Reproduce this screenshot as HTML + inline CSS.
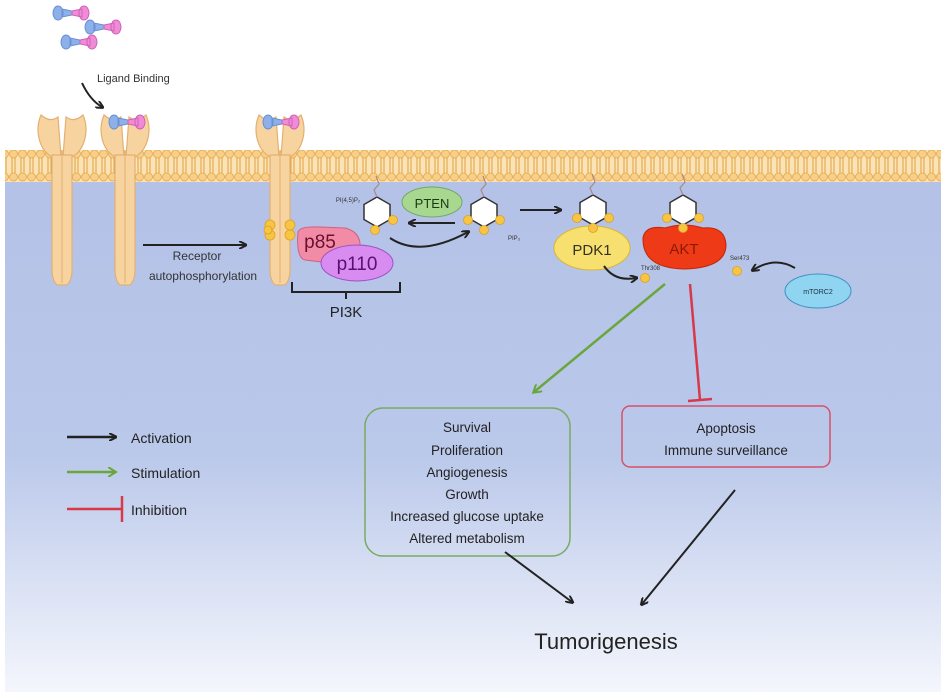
<!DOCTYPE html>
<html><head><meta charset="utf-8"><style>
body{margin:0;background:#fff}
svg{display:block}
text{font-family:"Liberation Sans",sans-serif}
</style></head><body>
<svg width="949" height="692" viewBox="0 0 949 692">
<defs>
<linearGradient id="bg" x1="0" y1="0" x2="0" y2="1">
<stop offset="0" stop-color="#b3c1e7"/><stop offset="0.55" stop-color="#bac8ea"/><stop offset="1" stop-color="#f4f6fc"/>
</linearGradient>
<pattern id="mem" x="0" y="150" width="9" height="32" patternUnits="userSpaceOnUse">
<rect width="9" height="32" fill="#fbe3b8"/>
<circle cx="4.5" cy="4" r="4" fill="#f7cf8a" stroke="#e8a947" stroke-width="0.8"/>
<circle cx="4.5" cy="27" r="4" fill="#f7cf8a" stroke="#e8a947" stroke-width="0.8"/>
<line x1="3" y1="8" x2="3" y2="23" stroke="#e3a03c" stroke-width="1"/>
<line x1="6" y1="8" x2="6" y2="23" stroke="#e3a03c" stroke-width="1"/>
</pattern>
<marker id="ak" markerWidth="8" markerHeight="8" refX="6" refY="4" orient="auto" markerUnits="userSpaceOnUse"><path d="M0,0 L8,4 L0,8" fill="none" stroke="#222" stroke-width="2"/></marker>
<marker id="ag" markerWidth="10" markerHeight="10" refX="7" refY="5" orient="auto" markerUnits="userSpaceOnUse"><path d="M0,0 L8,5 L0,10" fill="none" stroke="#6aa63c" stroke-width="2"/></marker>
<g id="rec">
<path d="M-1,2 L-10,2 C-24,-6 -27,-26 -21,-40 Q-12,-32 -4,-38 Z" fill="#f7d3a0" stroke="#e2b072" stroke-width="1.2"/>
<path d="M1,2 L10,2 C24,-6 27,-26 21,-40 Q12,-32 4,-38 Z" fill="#f7d3a0" stroke="#e2b072" stroke-width="1.2"/>
<path d="M-10,0 L-10,115 C-10,125 -6,130 -4,130 L4,130 C6,130 10,125 10,115 L10,0 Z" fill="#f7d3a0" stroke="#e2b072" stroke-width="1.2"/>
<line x1="0" y1="-5" x2="0" y2="128" stroke="#e2b072" stroke-width="1"/>
</g>
<g id="lig"><path d="M-10,-4 L0,-2 L0,2 L-10,4 Z M-14,-7 a5,7 0 1,0 0.1,0" fill="#8cb0ea" stroke="#6a8fd0"/><path d="M0,-2 L10,-4 L10,4 L0,2Z M12,-7 a5,7 0 1,1 -0.1,0" fill="#f08cd6" stroke="#d060b8"/></g>
<g id="hex"><path d="M0,-15 L13,-7.5 L13,7.5 L0,15 L-13,7.5 L-13,-7.5Z" fill="#fff" stroke="#333" stroke-width="1.5"/><path d="M0,-15 L-3,-22 L2,-28 L-1,-36" fill="none" stroke="#a88" stroke-width="1.2"/></g>
<circle id="ph" r="4.5" fill="#f6c543" stroke="#e0a020" stroke-width="0.8"/>
</defs>
<rect x="5" y="165" width="936" height="527" fill="url(#bg)"/>
<rect x="5" y="150" width="936" height="32" fill="url(#mem)"/>
<use href="#rec" x="62" y="155"/>
<use href="#rec" x="125" y="155"/>
<use href="#rec" x="280" y="155"/>
<use href="#lig" x="72" y="13"/><use href="#lig" x="104" y="27"/><use href="#lig" x="80" y="42"/>
<use href="#lig" x="128" y="122"/><use href="#lig" x="282" y="122"/>
<path d="M82,83 Q90,100 102,107" fill="none" stroke="#222" stroke-width="2" marker-end="url(#ak)"/>
<text x="97" y="82" font-size="11" fill="#333">Ligand Binding</text>
<g fill="#f6c543" stroke="#e0a020" stroke-width="0.8"><circle cx="270" cy="225" r="5"/><circle cx="270" cy="235" r="5"/><circle cx="290" cy="225" r="5"/><circle cx="290" cy="235" r="5"/><circle cx="268" cy="230" r="4"/></g>
<line x1="143" y1="245" x2="245" y2="245" stroke="#222" stroke-width="2" marker-end="url(#ak)"/>
<text x="197" y="260" font-size="12" fill="#333" text-anchor="middle">Receptor</text>
<text x="203" y="280" font-size="12" fill="#333" text-anchor="middle">autophosphorylation</text>
<path d="M298,232 Q300,226 320,227 L345,228 Q362,232 360,250 Q355,265 330,263 L305,260 Q296,258 298,232Z" fill="#f28ca6" stroke="#d0607e"/>
<ellipse cx="357" cy="263" rx="36" ry="18" fill="#d98cef" stroke="#a050c8"/>
<text x="320" y="248" font-size="19" fill="#6a1030" text-anchor="middle">p85</text>
<text x="357" y="270" font-size="19" fill="#5a1070" text-anchor="middle">p110</text>
<path d="M292,282 L292,292 L400,292 L400,282 M346,292 L346,299" fill="none" stroke="#222" stroke-width="2"/>
<text x="346" y="317" font-size="15" fill="#222" text-anchor="middle">PI3K</text>
<use href="#hex" x="377" y="212"/><use href="#ph" x="393" y="220"/><use href="#ph" x="375" y="230"/>
<text x="348" y="202" font-size="6" fill="#333" text-anchor="middle">PI(4,5)P₂</text>
<ellipse cx="432" cy="202" rx="30" ry="15" fill="#a8d890" stroke="#70a860"/>
<text x="432" y="208" font-size="13" fill="#1a3a10" text-anchor="middle">PTEN</text>
<line x1="455" y1="223" x2="410" y2="223" stroke="#222" stroke-width="2" marker-end="url(#ak)"/>
<path d="M390,238 Q420,258 468,232" fill="none" stroke="#222" stroke-width="2" marker-end="url(#ak)"/>
<use href="#hex" x="484" y="212"/><use href="#ph" x="468" y="220"/><use href="#ph" x="500" y="220"/><use href="#ph" x="484" y="230"/>
<text x="508" y="240" font-size="6" fill="#333">PIP₃</text>
<line x1="520" y1="210" x2="560" y2="210" stroke="#222" stroke-width="2" marker-end="url(#ak)"/>
<ellipse cx="592" cy="248" rx="38" ry="22" fill="#f7e070" stroke="#d8b830"/>
<text x="592" y="255" font-size="15" fill="#332" text-anchor="middle">PDK1</text>
<use href="#hex" x="593" y="210"/><use href="#ph" x="577" y="218"/><use href="#ph" x="609" y="218"/><use href="#ph" x="593" y="228"/>
<path d="M643,238 Q645,225 665,228 Q684,222 703,228 Q725,226 726,245 Q726,268 684,269 Q642,268 643,238Z" fill="#ee3a16" stroke="#c02808"/>
<text x="684" y="254" font-size="15" fill="#8a1a08" text-anchor="middle">AKT</text>
<use href="#hex" x="683" y="210"/><use href="#ph" x="667" y="218"/><use href="#ph" x="699" y="218"/><use href="#ph" x="683" y="228"/>
<text x="641" y="270" font-size="6" fill="#333">Thr308</text>
<use href="#ph" x="645" y="278"/>
<path d="M604,266 Q615,282 636,278" fill="none" stroke="#222" stroke-width="2" marker-end="url(#ak)"/>
<text x="730" y="260" font-size="6" fill="#333">Ser473</text>
<use href="#ph" x="737" y="271"/>
<path d="M795,268 Q775,256 753,270" fill="none" stroke="#222" stroke-width="2" marker-end="url(#ak)"/>
<ellipse cx="818" cy="291" rx="33" ry="17" fill="#8fd4f0" stroke="#4090c0"/>
<text x="818" y="294" font-size="7" fill="#234" text-anchor="middle">mTORC2</text>
<line x1="665" y1="284" x2="534" y2="392" stroke="#6aa63c" stroke-width="2.5" marker-end="url(#ag)"/>
<line x1="690" y1="284" x2="700" y2="400" stroke="#d83848" stroke-width="2.5"/>
<line x1="688" y1="401" x2="712" y2="399" stroke="#d83848" stroke-width="2.5"/>
<rect x="365" y="408" width="205" height="148" rx="18" fill="none" stroke="#7aaa60" stroke-width="1.5"/>
<g font-size="13.5" fill="#222" text-anchor="middle">
<text x="467" y="432">Survival</text><text x="467" y="455">Proliferation</text><text x="467" y="477">Angiogenesis</text><text x="467" y="499">Growth</text><text x="467" y="521">Increased glucose uptake</text><text x="467" y="543">Altered metabolism</text>
</g>
<rect x="622" y="406" width="208" height="61" rx="8" fill="none" stroke="#d85068" stroke-width="1.5"/>
<text x="726" y="433" font-size="13.5" fill="#222" text-anchor="middle">Apoptosis</text>
<text x="726" y="455" font-size="13.5" fill="#222" text-anchor="middle">Immune surveillance</text>
<line x1="505" y1="552" x2="572" y2="602" stroke="#222" stroke-width="2" marker-end="url(#ak)"/>
<line x1="735" y1="490" x2="642" y2="604" stroke="#222" stroke-width="2" marker-end="url(#ak)"/>
<text x="606" y="649" font-size="22" fill="#222" text-anchor="middle">Tumorigenesis</text>
<line x1="67" y1="437" x2="115" y2="437" stroke="#222" stroke-width="2.5" marker-end="url(#ak)"/>
<text x="131" y="443" font-size="14" fill="#222">Activation</text>
<line x1="67" y1="472" x2="115" y2="472" stroke="#6aa63c" stroke-width="2.5" marker-end="url(#ag)"/>
<text x="131" y="478" font-size="14" fill="#222">Stimulation</text>
<line x1="67" y1="509" x2="121" y2="509" stroke="#d83848" stroke-width="2.5"/>
<line x1="122" y1="496" x2="122" y2="522" stroke="#d83848" stroke-width="2.5"/>
<text x="131" y="515" font-size="14" fill="#222">Inhibition</text>
</svg>
</body></html>
